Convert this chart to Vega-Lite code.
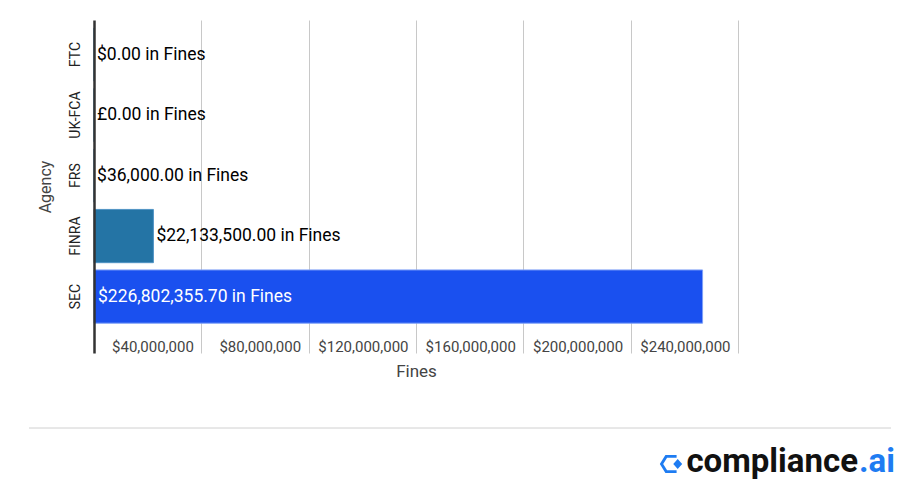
{
  "$schema": "https://vega.github.io/schema/vega-lite/v6.json",
  "padding": {"left": 28, "top": 20, "right": 30, "bottom": 0},
  "autosize": {"type": "pad"},
  "config": {"view": {"stroke": null}, "font": "Roboto"},
  "bounds": "flush",
  "spacing": 75,
  "vconcat": [
    {
      "width": 644,
      "height": 333,
      "data": {"values": [
        {"agency": "FTC", "fines": 0, "label": "$0.00 in Fines"},
        {"agency": "UK-FCA", "fines": 0, "label": "£0.00 in Fines"},
        {"agency": "FRS", "fines": 36000, "label": "$36,000.00 in Fines"},
        {"agency": "FINRA", "fines": 22133500, "label": "$22,133,500.00 in Fines"},
        {"agency": "SEC", "fines": 226802355.7, "label": "$226,802,355.70 in Fines"}
      ]},
      "encoding": {
        "y": {
          "field": "agency", "type": "nominal",
          "sort": ["FTC", "UK-FCA", "FRS", "FINRA", "SEC"],
          "scale": {"paddingInner": 0.12, "paddingOuter": 0.312, "align": 0.21},
          "axis": {
            "title": "Agency", "titleFontSize": 16, "titleFontWeight": "normal", "titleColor": "#444",
            "titlePadding": 15,
            "labelAngle": -90, "labelAlign": "center", "labelBaseline": "bottom",
            "labelFontSize": 14, "labelColor": "#222", "labelPadding": 12,
            "ticks": false, "domainColor": "#333", "domainWidth": 2.5, "zindex": 1
          }
        }
      },
      "layer": [
        {
          "mark": {"type": "bar", "strokeWidth": 1},
          "encoding": {
            "x": {
              "field": "fines", "type": "quantitative",
              "scale": {"domain": [0, 240000000], "nice": false},
              "axis": {
                "title": "Fines", "titleFontSize": 17, "titleFontWeight": "normal", "titleColor": "#444",
                "titlePadding": 9,
                "values": [40000000, 80000000, 120000000, 160000000, 200000000, 240000000],
                "format": "$,.0f",
                "labelAlign": "right", "labelOffset": -8, "labelBaseline": "middle", "labelPadding": -7,
                "labelFontSize": 15, "labelColor": "#444", "labelFlush": false,
                "ticks": false, "domain": false, "zindex": 0,
                "grid": true, "gridColor": "#c8c8c8", "gridWidth": 1
              }
            },
            "color": {
              "field": "agency", "type": "nominal",
              "scale": {"domain": ["FTC", "UK-FCA", "FRS", "FINRA", "SEC"], "range": ["#2474a5", "#2474a5", "#2474a5", "#2474a5", "#1a50ef"]},
              "legend": null
            },
            "stroke": {
              "field": "agency", "type": "nominal",
              "scale": {"domain": ["FTC", "UK-FCA", "FRS", "FINRA", "SEC"], "range": ["#4f93c4", "#4f93c4", "#4f93c4", "#4f93c4", "#7fa0f7"]},
              "legend": null
            }
          }
        },
        {
          "transform": [{"filter": "datum.agency !== 'SEC'"}],
          "mark": {"type": "text", "align": "left", "baseline": "middle", "dx": 3, "fontSize": 17.5, "fontWeight": "normal", "color": "#000"},
          "encoding": {
            "x": {"field": "fines", "type": "quantitative"},
            "text": {"field": "label"}
          }
        },
        {
          "transform": [{"filter": "datum.agency === 'SEC'"}],
          "mark": {"type": "text", "align": "left", "baseline": "middle", "dx": 4, "fontSize": 17.5, "fontWeight": "normal", "color": "#fff"},
          "encoding": {
            "x": {"datum": 0, "type": "quantitative"},
            "text": {"field": "label"}
          }
        }
      ]
    },
    {
      "width": 797,
      "height": 55,
      "data": {"values": [{}]},
      "layer": [
        {
          "mark": {"type": "rule", "color": "#d0d0d0", "strokeWidth": 1},
          "encoding": {
            "x": {"datum": -65, "type": "quantitative", "scale": {"domain": [0, 797], "nice": false, "zero": false}, "axis": null},
            "x2": {"datum": 797},
            "y": {"datum": 0, "type": "quantitative", "scale": {"domain": [0, 55], "reverse": true, "nice": false, "zero": false}, "axis": null}
          }
        },
        {
          "mark": {"type": "point", "filled": true, "opacity": 1, "color": "#1e7cf2", "size": 500,
            "shape": "M 0.5 -0.8 L -0.5 -0.8 L -1 0 L -0.5 0.8 L 0.5 0.8 L 0.5 0.55 L -0.35 0.55 L -0.7 0 L -0.35 -0.55 L 0.5 -0.55 Z M 0.6 -0.45 L 1 0 L 0.6 0.45 L 0.2 0 Z"},
          "encoding": {
            "x": {"datum": 577, "type": "quantitative"},
            "y": {"datum": 36, "type": "quantitative"}
          }
        },
        {
          "mark": {"type": "text", "text": "compliance", "align": "right", "baseline": "alphabetic", "fontSize": 33, "fontWeight": "bold", "color": "#111"},
          "encoding": {
            "x": {"datum": 764, "type": "quantitative"},
            "y": {"datum": 44, "type": "quantitative"}
          }
        },
        {
          "mark": {"type": "text", "text": ".ai", "align": "left", "baseline": "alphabetic", "fontSize": 33, "fontWeight": "bold", "color": "#1e7cf2"},
          "encoding": {
            "x": {"datum": 765, "type": "quantitative"},
            "y": {"datum": 44, "type": "quantitative"}
          }
        }
      ]
    }
  ]
}
